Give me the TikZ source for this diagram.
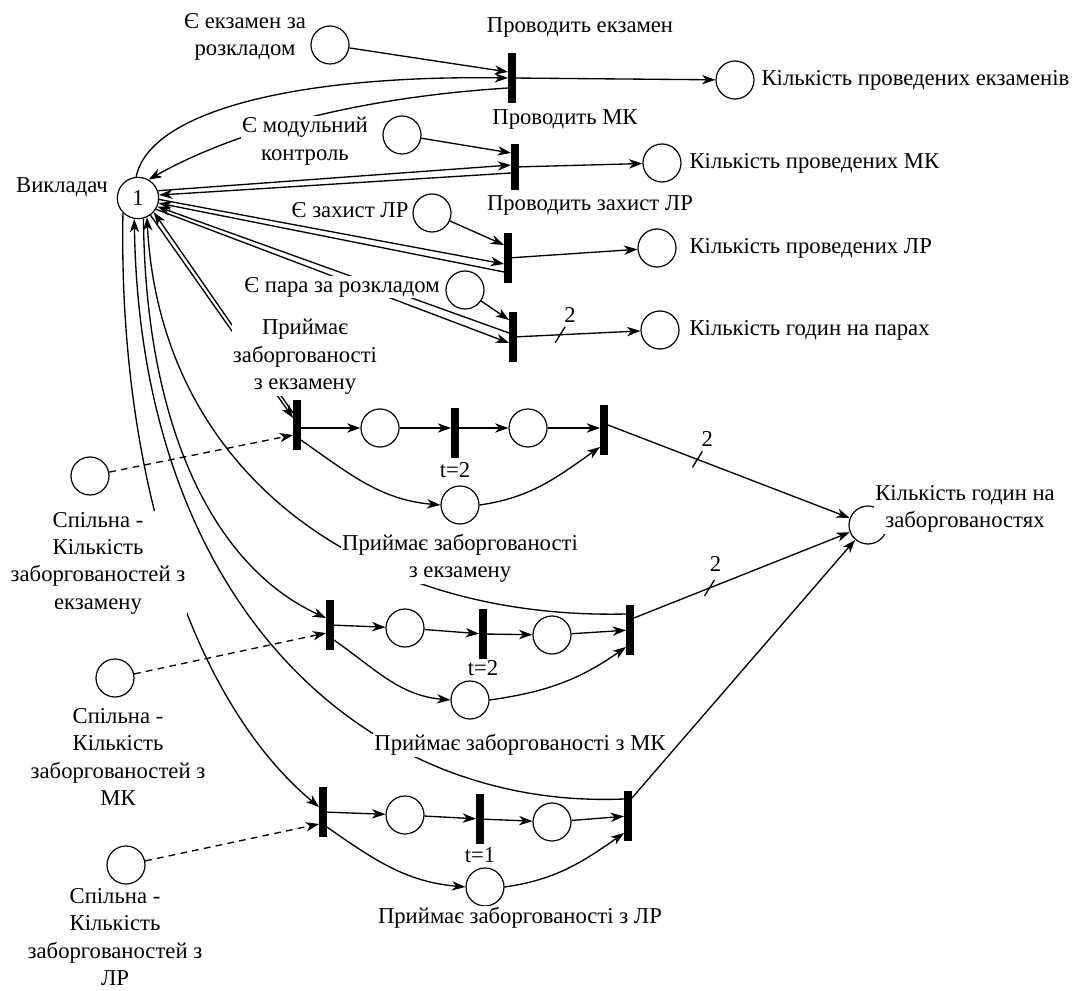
\documentclass[tikz,border=0pt]{standalone}
\usepackage{fontspec}
\setmainfont{Liberation Serif}
\usetikzlibrary{arrows.meta,calc}

\begin{document}
\begin{tikzpicture}[x=0.75pt,y=-0.75pt,
  font=\fontsize{17}{20.5}\selectfont,
  place/.style={circle,draw,line width=0.9pt,minimum size=28.5pt,inner sep=0pt},
  trans/.style={fill=black,minimum width=5.5pt,minimum height=37pt,inner sep=0pt},
  arc/.style={line width=1pt,-{Stealth[length=10pt,width=7pt,inset=3pt]}},
  noarr/.style={line width=1pt},
  dasharc/.style={arc,dash pattern=on 5pt off 4pt},
  lbl/.style={fill=white,inner sep=1pt,align=center}]
\useasboundingbox (0,0) rectangle (1078,991);

%Shape: Circle
\node[place,minimum size=31pt] (pV) at (138,198) {1};
%Upper part
\node[place] (pE1) at (330,45) {};
\node[trans] (T1) at (512,78) {};
\node[place] (pK1) at (735,80) {};
\node[place] (pE2) at (402,135) {};
\node[trans,minimum height=34pt] (T2) at (515,167) {};
\node[place] (pK2) at (662,163) {};
\node[place] (pE3) at (432,213) {};
\node[trans] (T3) at (508,258) {};
\node[place] (pK3) at (657,248) {};
\node[place] (pE4) at (465,290) {};
\node[trans] (T4) at (513,337) {};
\node[place] (pK4) at (660,330) {};
%Debts: exam
\node[place] (pS1) at (90,476) {};
\node[trans] (T5) at (297,425) {};
\node[place] (pA1) at (380,428) {};
\node[trans] (T6) at (455,433) {};
\node[place] (pB1) at (528,428) {};
\node[trans] (T7) at (604,430) {};
\node[place] (pC1) at (460,505) {};
%Debts: MK
\node[place] (pS2) at (115,678) {};
\node[trans] (T8) at (330,625) {};
\node[place] (pA2) at (405,628) {};
\node[trans] (T9) at (483,634) {};
\node[place] (pB2) at (552,635) {};
\node[trans] (T10) at (630,630) {};
\node[place] (pC2) at (470,700) {};
%Debts: LR
\node[place] (pS3) at (126,865) {};
\node[trans] (T11) at (323,812) {};
\node[place] (pA3) at (405,815) {};
\node[trans] (T12) at (480,819) {};
\node[place] (pB3) at (552,822) {};
\node[trans] (T13) at (628,816) {};
\node[place] (pC3) at (485,887) {};
\node[place] (pH) at (868,525) {};

%Straight Lines
\draw[arc] (pE1) -- ($(T1.west)+(0,-6)$);
\draw[arc] (pV.95) .. controls (150,110) and (300,75) .. (T1.west);
\draw[arc] ($(T1.west)+(0,10)$) .. controls (320,100) and (210,145) .. (pV.60);
\draw[arc] (T1) -- (pK1);
\draw[arc] (pE2) -- ($(T2.west)+(0,-14)$);
\draw[arc] (pV.20) -- ($(T2.west)+(0,-2)$);
\draw[arc] ($(T2.west)+(0,6)$) -- (pV.8);
\draw[arc] (T2) -- (pK2);
\draw[arc] (pE3) -- ($(T3.west)+(0,-13)$);
\draw[arc] (pV.-4) -- ($(T3.west)+(0,6)$);
\draw[arc] ($(T3.west)+(0,14)$) -- (pV.-14);
\draw[arc] (T3) -- (pK3);
\draw[arc] (pE4) -- ($(T4.west)+(0,-17)$);
\draw[arc] (pV.-32) -- ($(T4.west)+(0,6)$);
\draw[arc] ($(T4.west)+(0,-4)$) -- (pV.-24);
\draw[arc] (T4) -- coordinate[pos=0.35] (w4) (pK4);
\draw[noarr] (w4) ++(-5,8) -- ++(10,-16);

%Debts: exam
\draw[arc] (pV.-54) -- ($(T5.west)+(0,-7)$);
\draw[arc] ($(T5.west)+(0,-12)$) -- (pV.-42);
\draw[dasharc] (pS1) -- ($(T5.west)+(0,10)$);
\draw[arc] (T5.east |- pA1) -- (pA1);
\draw[arc] (pA1) -- (pA1 -| T6.west);
\draw[arc] (T6.east |- pB1) -- (pB1);
\draw[arc] (pB1) -- (pB1 -| T7.west);
\draw[arc] ($(T5.east)+(0,15)$) to[out=-35,in=175] (pC1.west);
\draw[arc] (pC1.east) to[out=8,in=215] ($(T7.west)+(0,17)$);
\draw[arc] ($(T7.east)+(0,-5)$) -- coordinate[pos=0.37] (w7) (pH);
\draw[noarr] (w7) ++(-5,8) -- ++(10,-16);

%Debts: MK
\draw[arc] (pV.-75) .. controls (145,420) and (210,565) .. ($(T8.west)+(0,-7)$);
\draw[arc] ($(T10.west)+(0,-16)$) .. controls (360,620) and (160,470) .. (pV.-65);
\draw[dasharc] (pS2) -- ($(T8.west)+(0,8)$);
\draw[arc] (T8) -- (pA2);
\draw[arc] (pA2) -- (T9);
\draw[arc] (T9) -- (pB2);
\draw[arc] (pB2) -- (T10);
\draw[arc] ($(T8.east)+(0,15)$) to[out=-35,in=175] (pC2.west);
\draw[arc] (pC2.east) to[out=8,in=215] ($(T10.west)+(0,17)$);
\draw[arc] ($(T10.east)+(0,-12)$) -- coordinate[pos=0.35] (w10) (pH);
\draw[noarr] (w10) ++(-5,8) -- ++(10,-16);

%Debts: LR
\draw[arc] (pV.-135) .. controls (118,470) and (190,700) .. ($(T11.west)+(0,-5)$);
\draw[arc] ($(T13.west)+(0,-17)$) .. controls (360,810) and (140,600) .. (pV.-100);
\draw[dasharc] (pS3) -- ($(T11.west)+(0,12)$);
\draw[arc] (T11) -- (pA3);
\draw[arc] (pA3) -- (T12);
\draw[arc] (T12) -- (pB3);
\draw[arc] (pB3) -- (T13);
\draw[arc] ($(T11.east)+(0,15)$) to[out=-35,in=175] (pC3.west);
\draw[arc] (pC3.east) to[out=8,in=215] ($(T13.west)+(0,17)$);
\draw[arc] ($(T13.east)+(0,-18)$) -- (pH);

% Text Node
\node[lbl] (lV) at (62,187) {Викладач};
\node[lbl] (lE1) at (245,37) {Є екзамен за\\розкладом};
\node[lbl] (lT1) at (580,27) {Проводить екзамен};
\node[lbl,anchor=west] (lK1) at (760,80) {Кількість проведених екзаменів};
\node[lbl] (lE2) at (305,141) {Є модульний\\контроль};
\node[lbl] (lT2) at (565,119) {Проводить МК};
\node[lbl,anchor=west] (lK2) at (688,163) {Кількість проведених МК};
\node[lbl] (lE3) at (350,210) {Є захист ЛР};
\node[lbl] (lT3) at (590,205) {Проводить захист ЛР};
\node[lbl,anchor=west] (lK3) at (688,248) {Кількість проведених ЛР};
\node[lbl] (lE4) at (342,287) {Є пара за розкладом};
\node[lbl,anchor=west] (lK4) at (688,330) {Кількість годин на парах};
\node[inner sep=1pt] (n4) at ($(w4)+(10,-20)$) {2};
\node[lbl] (lT5) at (305,357) {Приймає\\заборгованості\\з екзамену};
\node[lbl] (lS1) at (98,563) {Спільна -\\Кількість\\заборгованостей з\\екзамену};
\node[inner sep=1pt] (lT6) at (455,470) {t=2};
\node[lbl] (lC1) at (460,558) {Приймає заборгованості\\з екзамену};
\node[inner sep=1pt] (n7) at ($(w7)+(10,-20)$) {2};
\node[lbl] (lH) at (965,509) {Кількість годин на\\заборгованостях};
\node[lbl] (lS2) at (118,757) {Спільна -\\Кількість\\заборгованостей з\\МК};
\node[inner sep=1pt] (lT9) at (483,668) {t=2};
\node[lbl] (lC2) at (520,745) {Приймає заборгованості з МК};
\node[inner sep=1pt] (n10) at ($(w10)+(6,-24)$) {2};
\node[lbl] (lS3) at (115,937) {Спільна -\\Кількість\\заборгованостей з\\ЛР};
\node[inner sep=1pt] (lT12) at (480,855) {t=1};
\node[lbl] (lC3) at (520,918) {Приймає заборгованості з ЛР};

\end{tikzpicture}
\end{document}
